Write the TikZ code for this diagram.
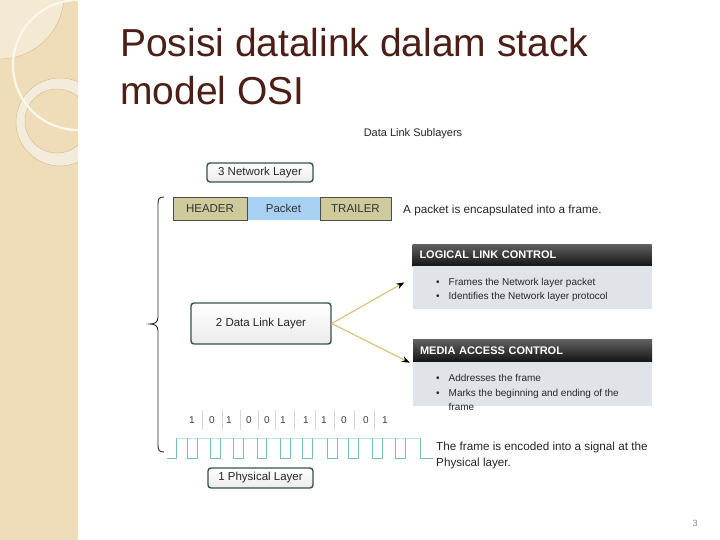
\documentclass[tikz,border=0pt]{standalone}
\usepackage{fontspec}
\setmainfont{Liberation Sans}
\usetikzlibrary{positioning, arrows.meta, calc}

\definecolor{stripbeige}{HTML}{EEDDB8}
\definecolor{striplight}{HTML}{F4EAD3}
\definecolor{ringline}{HTML}{D6C08F}
\definecolor{titlebrown}{HTML}{4B1E16}
\definecolor{boxedge}{HTML}{35524D}
\definecolor{khaki}{HTML}{CECA9C}
\definecolor{pktblue}{HTML}{A8D0F2}
\definecolor{panelgray}{HTML}{E0E4E9}
\definecolor{arrowtan}{HTML}{D9C27A}
\definecolor{wavecyan}{HTML}{6FC0C4}

\begin{document}
\begin{tikzpicture}[
  x=1pt, y=-1pt,
  font=\fontsize{11.5}{14}\selectfont,
  % Estilos de bloques
  layerbox/.style={draw=boxedge, rounded corners=3pt, line width=1.4pt, top color=white, bottom color=black!8, inner sep=0pt, text=black!85},
  fieldbox/.style={draw=black!70, fill=khaki, minimum height=23pt, inner sep=0pt, text=black!80},
  headbar/.style={top color=black!62, bottom color=black!92, minimum width=239pt, minimum height=22pt, text width=225pt, inner xsep=7pt, inner ysep=0pt, align=left, text=white, font=\fontsize{11}{12}\selectfont\bfseries},
  panelbody/.style={fill=panelgray, minimum width=239pt, inner sep=0pt},
  bullets/.style={anchor=north west, align=left, inner sep=0pt, text=black!85, font=\fontsize{10}{14.5}\selectfont},
  note/.style={anchor=north west, align=left, inner sep=0pt, text=black!85, font=\fontsize{11.7}{16}\selectfont},
  titletext/.style={anchor=base west, inner sep=0pt, text=titlebrown, font=\fontsize{39}{48}\selectfont},
  bit/.style={inner sep=0pt, text=black!75, font=\fontsize{10}{12}\selectfont},
  % Estilos de flechas
  line/.style={draw=arrowtan, line width=1.2pt, -{Stealth[length=8pt, width=6pt, color=black]}},
  sepline/.style={draw=black!15, line width=0.8pt},
  wave/.style={draw=wavecyan, line width=1pt},
  wavetop/.style={draw=wavecyan!45, line width=0.8pt}
]
  \useasboundingbox (0,0) rectangle (720,540);
  \fill[white] (0,0) rectangle (720,540);

  % ==========================================
  % LEFT STRIP
  % ==========================================
  \fill[stripbeige] (0,0) rectangle (78,540);
  \begin{scope}
    \clip (0,0) rectangle (78,540);
    \fill[striplight] (0,-5) circle[radius=64];
    \draw[ringline, line width=0.5pt] (0,-5) circle[radius=64];
    \fill[ringline!30, even odd rule] (60,122) circle[radius=44] (57,121) circle[radius=32];
    \draw[ringline, line width=0.5pt] (60,122) circle[radius=44] (57,121) circle[radius=32];
    \draw[white!75!stripbeige, line width=2.2pt] (78,65) circle[radius=65];
  \end{scope}

  % ==========================================
  % TITLE
  % ==========================================
  \node[titletext] (title_a) at (120,57) {Posisi datalink dalam stack};
  \node[titletext] (title_b) at (120,105) {model OSI};

  % ==========================================
  % LAYER 3 AND FRAME
  % ==========================================
  \node[font=\fontsize{11}{13}\selectfont, text=black!85] (sub_title) at (413,134) {Data Link Sublayers};
  \node[layerbox, minimum width=106pt, minimum height=19pt] (net_layer) at (260,172.5) {3 Network Layer};

  \node[fill=pktblue, minimum width=73pt, minimum height=23pt, inner sep=0pt, text=black!80] (pkt) at (283.5,208.5) {Packet};
  \node[fieldbox, minimum width=74pt] (hdr) at (210,208.5) {HEADER};
  \node[fieldbox, minimum width=71pt] (trl) at (355.5,208.5) {TRAILER};
  \node[note] (encap) at (403,204.5) {A packet is encapsulated into a frame.};

  % ==========================================
  % LAYER 2 AND SUBLAYERS
  % ==========================================
  \node[layerbox, minimum width=140pt, minimum height=41pt] (dl_layer) at (261,323.5) {2 Data Link Layer};

  % Logical link control panel
  \node[headbar] (llc_head) at (532,255) {LOGICAL LINK CONTROL};
  \node[panelbody, minimum height=43pt, below=0pt of llc_head] (llc_body) {};
  \node[bullets] (llc_list) at (436,277.7) {\textbullet\hspace{9pt}Frames the Network layer packet\\\textbullet\hspace{9pt}Identifies the Network layer protocol};

  % Media access control panel
  \node[headbar] (mac_head) at (532.5,350.5) {MEDIA ACCESS CONTROL};
  \node[panelbody, minimum height=44pt, below=0pt of mac_head] (mac_body) {};
  \node[bullets] (mac_list) at (436,374.2) {\textbullet\hspace{9pt}Addresses the frame\\\textbullet\hspace{9pt}Marks the beginning and ending of the\\\hspace*{12.5pt}frame};

  \draw[line] (dl_layer.east) -- ($(llc_body.west)+(-8,-5.5)$);
  \draw[line] (dl_layer.east) -- ($(mac_head.south west)+(-3,1)$);

  % ==========================================
  % LAYER 1 AND SIGNAL
  % ==========================================
  \foreach \b/\x [count=\i] in {1/192,0/212,1/229,0/249,0/267,1/283,1/306,1/324,0/344,0/366,1/385}
    \node[bit] (bit\i) at (\x,420) {\b};
  \foreach \x in {202,222,240,258,275,294,315,334,354,374}
    \draw[sepline] (\x,410) -- (\x,430);

  % signal: faint tops, solid edges and lows
  \draw[wavetop] (176,438) -- (420,438);
  \draw[wave] (167,458) -- (176,458) -- (176,438);
  \foreach \a/\c in {187/197,210/220,233/243,257/266,280/290,302/312,327/337,348/358,372/382,395/405}
    \draw[wave] (\a,438) -- (\a,458) -- (\c,458) -- (\c,438);
  \draw[wave] (420,438) -- (420,458) -- (433,458);

  \node[note] (encode) at (436,441.6) {The frame is encoded into a signal at the\\Physical layer.};
  \node[layerbox, minimum width=105pt, minimum height=20pt] (phy_layer) at (260.5,478) {1 Physical Layer};

  % Brace over the data link stack
  \draw[black!85, line width=0.9pt] (164,197) .. controls (159,197) and (158,199) .. (158,204) -- (158,317)
    .. controls (158,322) and (155,324) .. (150,324) .. controls (155,324) and (158,326) .. (158,331)
    -- (158,445) .. controls (158,450) and (159,452) .. (164,452);

  % Slide number
  \node[text=black!45, font=\fontsize{9}{10}\selectfont] (slide_num) at (695,523) {3};

\end{tikzpicture}
\end{document}
